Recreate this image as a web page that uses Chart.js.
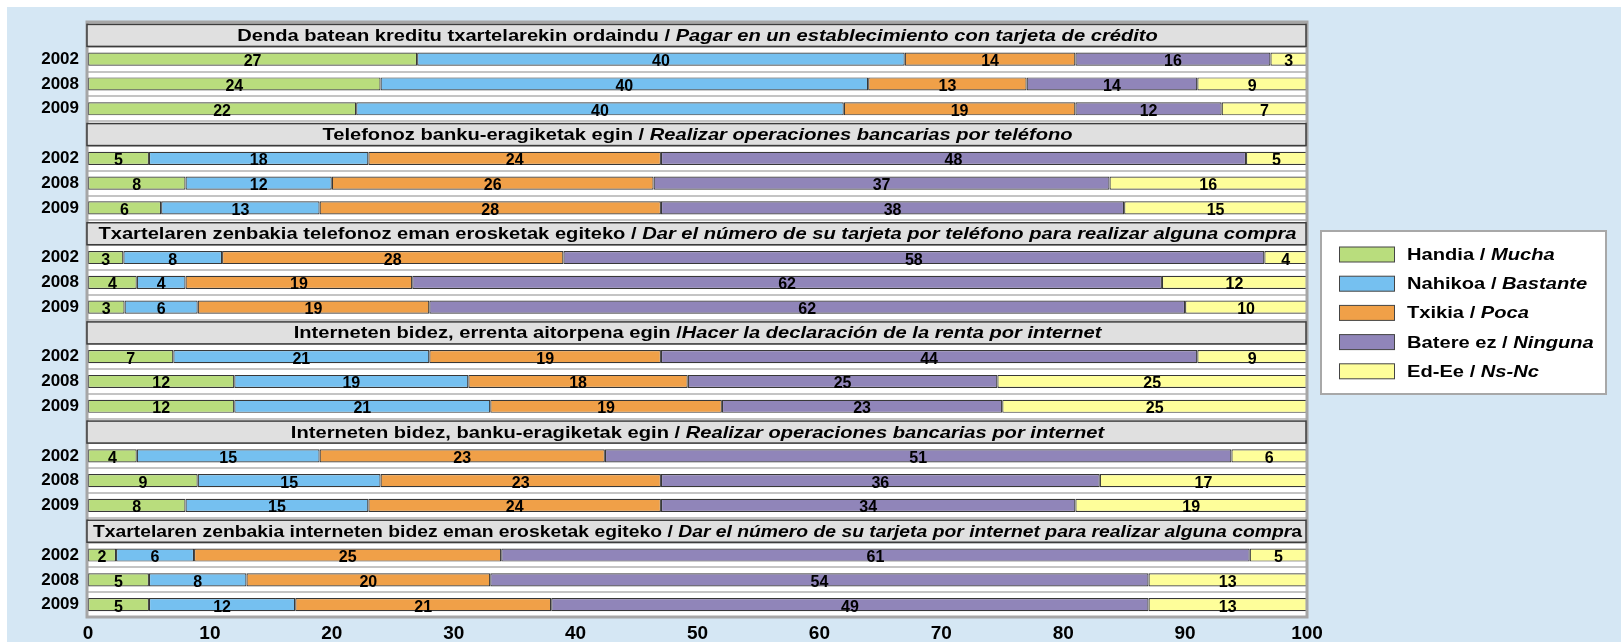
<!DOCTYPE html>
<html>
<head>
<meta charset="utf-8">
<script src="https://cdn.jsdelivr.net/npm/chart.js@4.4.0/dist/chart.umd.min.js"></script>
<style>
  html, body { margin: 0; padding: 0; background: #ffffff; }
  #wrap { position: absolute; left: 0; top: 0; width: 1621px; height: 642px; }
</style>
</head>
<body>
<div id="wrap"><canvas id="chart" width="1621" height="642"></canvas></div>
<script>
/* ------------------------------------------------------------
   Data: 6 questions x 3 survey years, 5 answer levels (%)
   ------------------------------------------------------------ */
const YEARS = ['2002', '2008', '2009'];

const TITLE_EU = [
  'Denda batean kreditu txartelarekin ordaindu / ',
  'Telefonoz banku-eragiketak egin / ',
  'Txartelaren zenbakia telefonoz eman erosketak egiteko / ',
  'Interneten bidez, errenta aitorpena egin /',
  'Interneten bidez, banku-eragiketak egin / ',
  'Txartelaren zenbakia interneten bidez eman erosketak egiteko / ',
];
const TITLE_ES = [
  'Pagar en un establecimiento con tarjeta de crédito',
  'Realizar operaciones bancarias por teléfono',
  'Dar el número de su tarjeta por teléfono para realizar alguna compra',
  'Hacer la declaración de la renta por internet',
  'Realizar operaciones bancarias por internet',
  'Dar el número de su tarjeta por internet para realizar alguna compr',
];
const TITLE_TAIL = ['', '', '', '', '', 'a'];

const SERIES_EU = ['Handia / ', 'Nahikoa / ', 'Txikia / ', 'Batere ez / ', 'Ed-Ee / '];
const SERIES_ES = ['Mucha', 'Bastante', 'Poca', 'Ninguna', 'Ns-Nc'];

// one value per (question, year), in order 2002, 2008, 2009
const handia  = [27, 24, 22,   5, 8, 6,        2.9, 4, 3,        7, 12, 12,      4, 9, 8,        2.3, 5, 5];
const nahikoa = [40, 40, 40,   18, 12, 13,     8.1, 4, 6,        21, 19.2, 21,   15, 15, 15,     6.4, 8, 12];
const txikia  = [14, 13, 19,   24, 26.4, 28,   28, 18.6, 19,     19, 18, 19,     23.4, 23, 24,   25.2, 20, 21];
const batere  = [16, 14, 12,   48, 37.4, 38,   57.5, 61.5, 62,   44, 25.4, 23,   51.4, 36, 34,   61.4, 54, 49];
const edee    = [3, 9, 7,      5, 16.2, 15,    3.5, 11.9, 10,    9, 25.4, 25,    6.2, 17, 19,    4.7, 13, 13];

const COLORS = ['#b9dd7d', '#75c0f0', '#f0a048', '#9085b9', '#fefe9a'];

const FONT = '"Liberation Sans", Arial, sans-serif';
const STRETCH = 1.22;   // the source lettering is wide and low

/* ------------------------------------------------------------
   Expand to 24 rows: a title row then the 3 year rows
   ------------------------------------------------------------ */
const rowLabels = [];
const titleRows = [];
TITLE_EU.forEach(() => {
  titleRows.push(rowLabels.length);
  rowLabels.push('');
  YEARS.forEach((y) => rowLabels.push(y));
});

function expand(vals) {
  const out = [];
  TITLE_EU.forEach((t, g) => {
    out.push(null);
    for (let k = 0; k < 3; k++) out.push(vals[g * 3 + k]);
  });
  return out;
}

const seriesVals = [handia, nahikoa, txikia, batere, edee];

/* ------------------------------------------------------------
   Helpers
   ------------------------------------------------------------ */
function fontOf(italic, size) {
  return (italic ? 'italic ' : '') + 'bold ' + size + 'px ' + FONT;
}

// draws normal/italic runs on one line, widened by STRETCH; squeezes to maxW
function drawMixed(ctx, parts, x, y, size, align, maxW) {
  const measure = () => parts.reduce((w, p) => {
    ctx.font = fontOf(p[1], size);
    return w + ctx.measureText(p[0]).width;
  }, 0);
  const raw = measure();
  let sx = STRETCH;
  if (maxW && raw * sx > maxW) sx = maxW / raw;
  const total = raw * sx;
  const left = align === 'center' ? x - total / 2 : x;
  ctx.save();
  ctx.translate(left, y);
  ctx.scale(sx, 1);
  ctx.textAlign = 'left';
  ctx.textBaseline = 'middle';
  ctx.fillStyle = '#000';
  let cx = 0;
  parts.forEach((p) => {
    ctx.font = fontOf(p[1], size);
    ctx.fillText(p[0], cx, 0);
    cx += ctx.measureText(p[0]).width;
  });
  ctx.restore();
}

/* ------------------------------------------------------------
   Plugins
   ------------------------------------------------------------ */
const backdrop = {
  id: 'backdrop',
  beforeDraw(chart) {
    const { ctx, chartArea: a } = chart;
    ctx.save();
    ctx.fillStyle = '#ffffff';
    ctx.fillRect(0, 0, chart.width, chart.height);
    ctx.fillStyle = '#d5e7f4';
    ctx.fillRect(7, 7, chart.width - 7, chart.height - 7);
    ctx.fillStyle = '#ffffff';
    ctx.fillRect(a.left, a.top, a.right - a.left, a.bottom - a.top);
    ctx.restore();
  },
};

const frameAndTitles = {
  id: 'frameAndTitles',
  afterDatasetsDraw(chart) {
    const { ctx, chartArea: a } = chart;
    const yScale = chart.scales.y;
    ctx.save();
    // plot frame
    ctx.strokeStyle = '#a6a6a6';
    ctx.lineWidth = 3;
    ctx.strokeRect(a.left - 1, a.top, a.right - a.left + 1, a.bottom - a.top);

    // question title boxes
    titleRows.forEach((row, g) => {
      const yc = yScale.getPixelForValue(row) + 1;
      const h = 22;
      ctx.fillStyle = '#e0e0e0';
      ctx.fillRect(a.left - 1, yc - h / 2, a.right - a.left, h);
      ctx.strokeStyle = '#3c3c3c';
      ctx.lineWidth = 1.5;
      ctx.strokeRect(a.left - 1, yc - h / 2, a.right - a.left, h);
      const parts = [[TITLE_EU[g], false], [TITLE_ES[g], true]];
      if (TITLE_TAIL[g]) parts.push([TITLE_TAIL[g], false]);
      drawMixed(ctx, parts, (a.left + a.right) / 2, yc + 1, 16.5, 'center', a.right - a.left - 10);
    });
    ctx.restore();
  },
};

const valueLabels = {
  id: 'valueLabels',
  afterDatasetsDraw(chart) {
    const { ctx } = chart;
    ctx.save();
    ctx.font = 'bold 16px ' + FONT;
    ctx.fillStyle = '#000';
    ctx.textAlign = 'center';
    ctx.textBaseline = 'alphabetic';
    chart.data.datasets.forEach((ds, i) => {
      const meta = chart.getDatasetMeta(i);
      meta.data.forEach((el, j) => {
        const v = ds.data[j];
        if (v === null || v === undefined) return;
        const p = el.getProps(['x', 'base', 'y'], true);
        ctx.fillText(String(Math.round(v)), (p.x + p.base) / 2, p.y + 7);
      });
    });
    ctx.restore();
  },
};

const legendBox = {
  id: 'legendBox',
  afterDraw(chart) {
    const { ctx } = chart;
    ctx.save();
    ctx.fillStyle = '#ffffff';
    ctx.fillRect(1321, 231, 285, 163);
    ctx.strokeStyle = '#a8a8a8';
    ctx.lineWidth = 2;
    ctx.strokeRect(1321, 231, 285, 163);
    chart.data.datasets.forEach((ds, i) => {
      const yc = 254.5 + i * 29.2;
      ctx.fillStyle = ds.backgroundColor;
      ctx.fillRect(1339, yc - 7.5, 55, 15);
      ctx.strokeStyle = '#444';
      ctx.lineWidth = 1;
      ctx.strokeRect(1339.5, yc - 7.5, 55, 15);
      drawMixed(ctx, [[SERIES_EU[i], false], [SERIES_ES[i], true]], 1407, yc + 1, 16.5, 'left');
    });
    ctx.restore();
  },
};

/* ------------------------------------------------------------
   Chart
   ------------------------------------------------------------ */
new Chart(document.getElementById('chart').getContext('2d'), {
  type: 'bar',
  data: {
    labels: rowLabels,
    datasets: seriesVals.map((vals, i) => ({
      label: SERIES_EU[i] + SERIES_ES[i],
      data: expand(vals),
      backgroundColor: COLORS[i],
      borderColor: '#383838',
      borderWidth: 1.2,
      borderSkipped: false,
      barPercentage: 0.53,
      categoryPercentage: 1,
    })),
  },
  options: {
    indexAxis: 'y',
    responsive: false,
    animation: false,
    devicePixelRatio: 1,
    layout: { padding: { left: 0, top: 22, right: 314, bottom: 0 } },
    plugins: {
      legend: { display: false },
      tooltip: { enabled: false },
    },
    scales: {
      x: {
        stacked: true,
        min: 0,
        max: 100,
        ticks: { stepSize: 10, color: '#000', font: { family: FONT, size: 19, weight: 'bold' }, padding: 5 },
        grid: { display: false, drawTicks: false },
        border: { display: false },
        afterFit: (s) => { s.height = 25; },
      },
      y: {
        stacked: true,
        ticks: { color: '#000', font: { family: FONT, size: 17, weight: 'bold' }, padding: 9, autoSkip: false },
        grid: { color: '#c4c4c4', lineWidth: 2, drawTicks: false },
        border: { display: false },
        afterFit: (s) => { s.width = 88; },
      },
    },
  },
  plugins: [backdrop, frameAndTitles, valueLabels, legendBox],
});
</script>
</body>
</html>
